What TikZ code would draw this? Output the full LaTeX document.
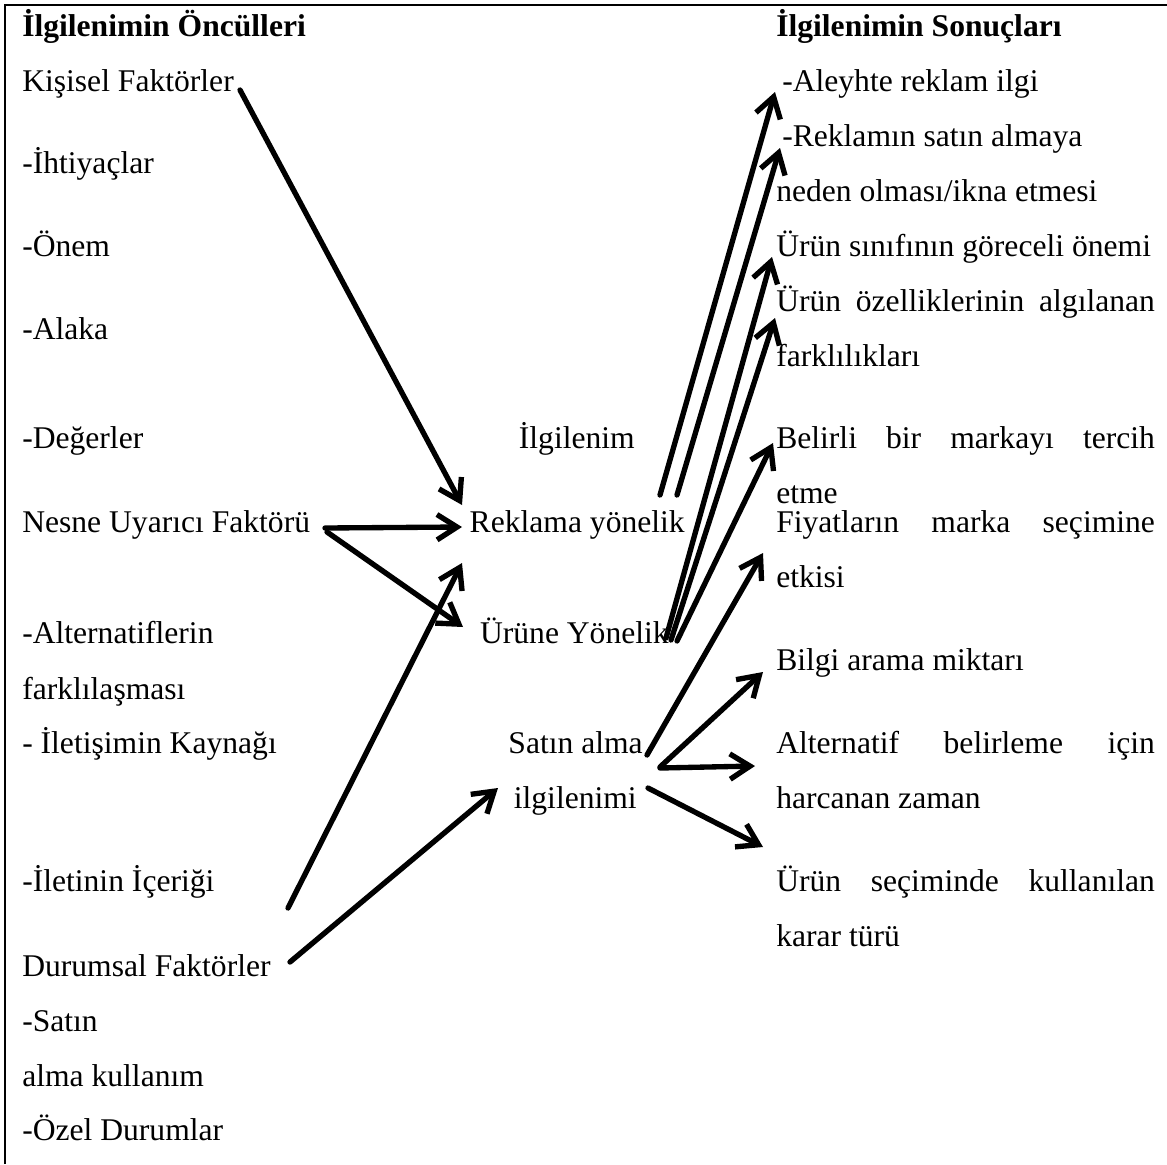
\documentclass[tikz,border=0pt]{standalone}
\usepackage{fontspec}
\setmainfont{Liberation Serif}
\usetikzlibrary{arrows.meta}
\newcommand\jline[1]{\makebox[284pt][s]{#1}}
\begin{document}
\begin{tikzpicture}[x=0.75pt,y=-0.75pt,
  txt/.style={anchor=base west,inner sep=0pt,font=\fontsize{23.7}{28}\selectfont},
  txtr/.style={anchor=base east,inner sep=0pt,font=\fontsize{23.7}{28}\selectfont},
  ttl/.style={anchor=base west,inner sep=0pt,font=\fontsize{23.7}{28}\selectfont\bfseries},
  arr/.style={line width=4pt,line cap=round,-{Straight Barb[length=15pt,width=19pt,line width=4pt,line join=miter]}},
  frameline/.style={line width=2.2pt}]
\useasboundingbox (0,0) rectangle (1167,1164);
\draw[frameline] (5,1164) -- (5,5) -- (1167,5);
% left column
\node[ttl] (h1) at (22,36) {İlgilenimin Öncülleri};
\node[txt] (kf) at (22,91) {Kişisel Faktörler};
\node[txt] (ih) at (22,173) {-İhtiyaçlar};
\node[txt] (on) at (22,256) {-Önem};
\node[txt] (al) at (22,339) {-Alaka};
\node[txt] (de) at (22,448) {-Değerler};
\node[txt] (nu) at (22,532) {Nesne Uyarıcı Faktörü};
\node[txt] (alt1) at (22,643) {-Alternatiflerin};
\node[txt] (alt2) at (22,699) {farklılaşması};
\node[txt] (ik) at (22,753) {- İletişimin Kaynağı};
\node[txt] (ii) at (22,891) {-İletinin İçeriği};
\node[txt] (df) at (22,976) {Durumsal Faktörler};
\node[txt] (sa1) at (22,1031) {-Satın};
\node[txt] (sa2) at (22,1086) {alma kullanım};
\node[txt] (od) at (22,1140) {-Özel Durumlar};
% middle
\node[txtr] (ilg) at (635,448) {İlgilenim};
\node[txtr] (ry) at (685,532) {Reklama yönelik};
\node[txtr] (uy) at (669,643) {Ürüne Yönelik};
\node[txtr] (sai1) at (643,753) {Satın alma};
\node[txtr] (sai2) at (637,808) {ilgilenimi};
% right column
\node[ttl] (h2) at (776,36) {İlgilenimin Sonuçları};
\node[txt] (r1) at (782,91) {-Aleyhte reklam ilgi};
\node[txt] (r2) at (782,146) {-Reklamın satın almaya};
\node[txt] (r3) at (776,201) {neden olması/ikna etmesi};
\node[txt] (r4) at (776,256) {Ürün sınıfının göreceli önemi};
\node[txt] (r5) at (776,311) {\jline{Ürün özelliklerinin algılanan}};
\node[txt] (r6) at (776,366) {farklılıkları};
\node[txt] (r7) at (776,448) {\jline{Belirli bir markayı tercih}};
\node[txt] (r8) at (776,503) {etme};
\node[txt] (r9) at (776,532) {\jline{Fiyatların marka seçimine}};
\node[txt] (r10) at (776,587) {etkisi};
\node[txt] (r11) at (776,670) {Bilgi arama miktarı};
\node[txt] (r12) at (776,753) {\jline{Alternatif belirleme için}};
\node[txt] (r13) at (776,808) {harcanan zaman};
\node[txt] (r14) at (776,891) {\jline{Ürün seçiminde kullanılan}};
\node[txt] (r15) at (776,946) {karar türü};
% arrow end points
\coordinate (kfO) at (240,90);   \coordinate (ryI1) at (462,505);
\coordinate (nuO1) at (325,528); \coordinate (ryI2) at (462,527);
\coordinate (nuO2) at (327,532); \coordinate (uyI) at (463,627);
\coordinate (iiO) at (288,908);  \coordinate (ryI3) at (462,563);
\coordinate (dfO) at (290,962);  \coordinate (saiI) at (498,788);
\coordinate (ryO1) at (660,495); \coordinate (r1I) at (775,92);
\coordinate (ryO2) at (677,495); \coordinate (r2I) at (780,148);
\coordinate (uyO1) at (666,638); \coordinate (r4I) at (772,257);
\coordinate (uyO2) at (671,640); \coordinate (r5I) at (775,318);
\coordinate (uyO3) at (677,641); \coordinate (r7I) at (773,443);
\coordinate (saiO1) at (647,755); \coordinate (r9I) at (763,553);
\coordinate (saiO2) at (660,767); \coordinate (r11I) at (763,672);
\coordinate (saiO3) at (660,768); \coordinate (r12I) at (755,766);
\coordinate (saiO4) at (648,788); \coordinate (r14I) at (763,847);
\draw[arr] (kfO) -- (ryI1);
\draw[arr] (nuO1) -- (ryI2);
\draw[arr] (nuO2) -- (uyI);
\draw[arr] (iiO) -- (ryI3);
\draw[arr] (dfO) -- (saiI);
\draw[arr] (ryO1) -- (r1I);
\draw[arr] (ryO2) -- (r2I);
\draw[arr] (uyO1) -- (r4I);
\draw[arr] (uyO2) -- (r5I);
\draw[arr] (uyO3) -- (r7I);
\draw[arr] (saiO1) -- (r9I);
\draw[arr] (saiO2) -- (r11I);
\draw[arr] (saiO3) -- (r12I);
\draw[arr] (saiO4) -- (r14I);
\end{tikzpicture}
\end{document}
